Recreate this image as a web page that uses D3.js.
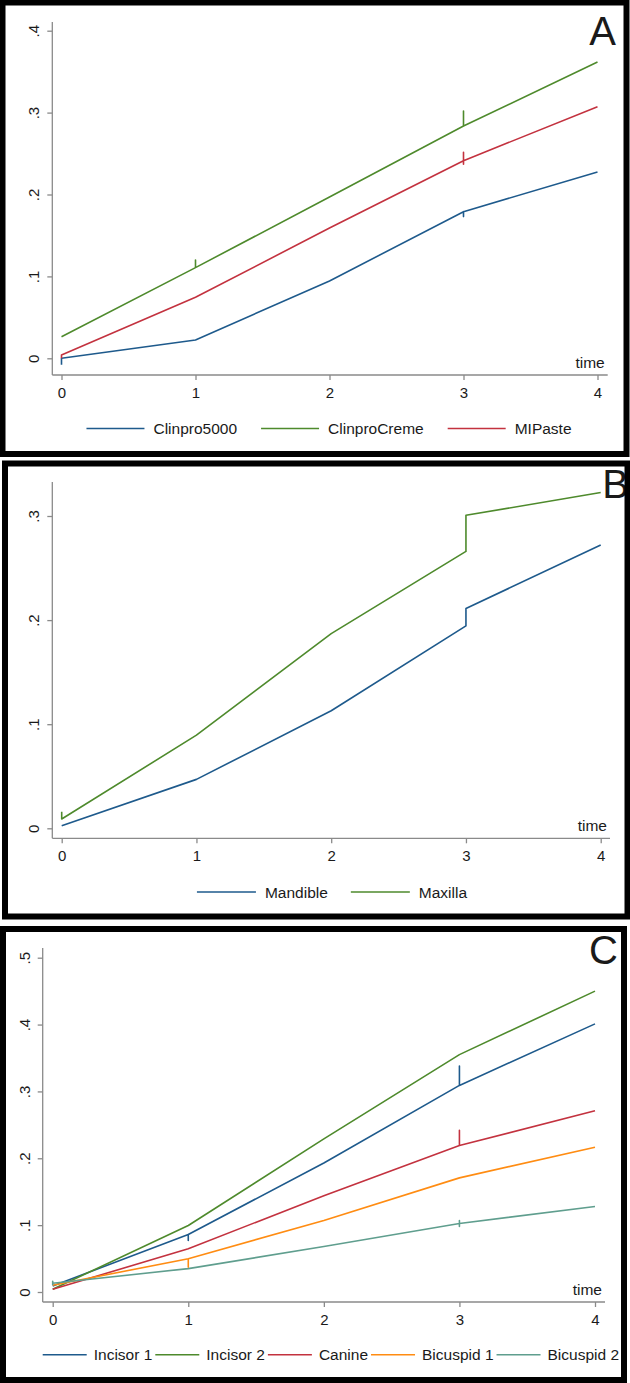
<!DOCTYPE html>
<html>
<head>
<meta charset="utf-8">
<script src="https://cdn.jsdelivr.net/npm/d3@7"></script>
<style>
  body { margin: 0; background: #fff; }
  svg text { font-family: Arial, "Liberation Sans", Helvetica, sans-serif; fill: #1a1a1a; }
</style>
</head>
<body>
<svg id="chart" width="630" height="1383"></svg>
<script>
// ---------------- DATA ----------------
const timeTicks = [0, 1, 2, 3, 4];
const timeTickLabels = ["0", "1", "2", "3", "4"];
const xAxisTitle = "time";

// Panel A
const yTicksA = [0, 0.1, 0.2, 0.3, 0.4];
const yTickLabelsA = ["0", ".1", ".2", ".3", ".4"];
const seriesNamesA = ["Clinpro5000", "ClinproCreme", "MIPaste"];
const clinpro5000 = [[0, -0.008], [0, 0], [1, 0.0224], [2, 0.0944], [3, 0.179], [3, 0.173], [3, 0.179], [4, 0.2275]];
const clinproCreme = [[0, 0.0264], [1, 0.1107], [1, 0.120], [1, 0.1107], [2, 0.197], [3, 0.2836], [3, 0.302], [3, 0.2836], [4, 0.3618]];
const miPaste = [[0, 0], [0, 0.004], [1, 0.0745], [2, 0.159], [3, 0.2413], [3, 0.2515], [3, 0.237], [3, 0.2413], [4, 0.3072]];

// Panel B
const yTicksB = [0, 0.1, 0.2, 0.3];
const yTickLabelsB = ["0", ".1", ".2", ".3"];
const seriesNamesB = ["Mandible", "Maxilla"];
const mandible = [[0, 0.0025], [1, 0.047], [2, 0.1129], [3, 0.1945], [3, 0.2111], [4, 0.2722]];
const maxilla = [[0, 0.016], [0, 0.0089], [1, 0.0895], [2, 0.187], [3, 0.266], [3, 0.3007], [4, 0.3225]];

// Panel C
const yTicksC = [0, 0.1, 0.2, 0.3, 0.4, 0.5];
const yTickLabelsC = ["0", ".1", ".2", ".3", ".4", ".5"];
const seriesNamesC = ["Incisor 1", "Incisor 2", "Canine", "Bicuspid 1", "Bicuspid 2"];
const incisor1 = [[0, 0.009], [1, 0.086], [1, 0.077], [1, 0.086], [2, 0.193], [3, 0.309], [3, 0.338], [3, 0.309], [4, 0.401]];
const incisor2 = [[0, 0.004], [1, 0.0995], [2, 0.229], [3, 0.355], [4, 0.450]];
const canine = [[0, 0.004], [1, 0.0647], [2, 0.144], [3, 0.219], [3, 0.242], [3, 0.219], [4, 0.271]];
const bicuspid1 = [[0, 0.010], [1, 0.0498], [1, 0.037], [1, 0.0498], [2, 0.107], [3, 0.1707], [4, 0.2166]];
const bicuspid2 = [[0, 0.010], [0, 0.016], [0, 0.013], [1, 0.035], [2, 0.068], [3, 0.1024], [3, 0.107], [3, 0.098], [3, 0.1024], [4, 0.128]];

// ---------------- STYLE / LAYOUT ----------------
const colorsA = ["#1e5a8c", "#4e8a2c", "#c3323f"];
const colorsB = ["#1e5a8c", "#4e8a2c"];
const colorsC = ["#1e5a8c", "#4e8a2c", "#c3323f", "#ff8c12", "#5f9e8e"];

const panels = [
  {
    letter: "A", series: [clinpro5000, clinproCreme, miPaste], names: seriesNamesA, colors: colorsA,
    yTicks: yTicksA, yLabels: yTickLabelsA, yMax: 0.4,
    xRange: [61.5, 597.5], yRange: [358.3, 30.7],
    axisX: 52.3, axisRight: 607.7, axisTop: 22, axisBottom: 375,
    legend: { y: 428.5, center: 329, key: 58, gap: 9, itemGap: 24 },
    letterPos: [616, 45],
    frame: [2.5, 2.5, 624, 451.5]
  },
  {
    letter: "B", series: [mandible, maxilla], names: seriesNamesB, colors: colorsB,
    yTicks: yTicksB, yLabels: yTickLabelsB, yMax: 0.3,
    xRange: [61.7, 600.7], yRange: [828.3, 516],
    axisX: 52.3, axisRight: 610, axisTop: 482, axisBottom: 838.3,
    legend: { y: 892, center: 332, key: 59, gap: 9, itemGap: 23 },
    letterPos: [629, 498],
    frame: [5, 463.5, 622.5, 453]
  },
  {
    letter: "C", series: [incisor1, incisor2, canine, bicuspid1, bicuspid2], names: seriesNamesC, colors: colorsC,
    yTicks: yTicksC, yLabels: yTickLabelsC, yMax: 0.5,
    xRange: [52.7, 595], yRange: [1292, 957.7],
    axisX: 42.7, axisRight: 605, axisTop: 948, axisBottom: 1302,
    legend: { y: 1354.7, start: 42.7, key: 44, gap: 7, itemGap: 3 },
    letterPos: [618, 964],
    frame: [3, 929, 621, 451]
  }
];

const svg = d3.select("#chart");
svg.append("rect").attr("width", 630).attr("height", 1383).attr("fill", "#fff");

const axisColor = "#8a8a8a";

panels.forEach(p => {
  const g = svg.append("g");
  const x = d3.scaleLinear().domain([0, 4]).range(p.xRange);
  const y = d3.scaleLinear().domain([0, p.yMax]).range([p.yRange[0], p.yRange[1]]);

  // axis lines
  g.append("line").attr("x1", p.axisX).attr("x2", p.axisX).attr("y1", p.axisTop).attr("y2", p.axisBottom)
    .attr("stroke", axisColor).attr("stroke-width", 1.3);
  g.append("line").attr("x1", p.axisX).attr("x2", p.axisRight).attr("y1", p.axisBottom).attr("y2", p.axisBottom)
    .attr("stroke", axisColor).attr("stroke-width", 1.3);

  // x axis
  const xa = g.append("g").attr("transform", `translate(0,${p.axisBottom})`)
    .call(d3.axisBottom(x).tickValues(timeTicks).tickSize(5).tickPadding(7)
      .tickFormat((d, i) => timeTickLabels[i]));
  xa.select(".domain").remove();
  xa.selectAll("line").attr("stroke", axisColor).attr("stroke-width", 1.3);
  xa.selectAll("text").attr("font-size", 15).attr("fill", "#1a1a1a")
    .attr("font-family", "Arial, 'Liberation Sans', sans-serif");

  // y axis
  const ya = g.append("g").attr("transform", `translate(${p.axisX},0)`)
    .call(d3.axisLeft(y).tickValues(p.yTicks).tickSize(5)
      .tickFormat((d, i) => p.yLabels[i]));
  ya.select(".domain").remove();
  ya.selectAll("line").attr("stroke", axisColor).attr("stroke-width", 1.3);
  ya.selectAll("text")
    .attr("transform", "rotate(-90)")
    .attr("x", 0).attr("y", -13).attr("dy", 0)
    .attr("text-anchor", "middle")
    .attr("font-size", 15).attr("fill", "#1a1a1a")
    .attr("font-family", "Arial, 'Liberation Sans', sans-serif");

  // x title
  g.append("text").attr("x", p.axisRight - 3).attr("y", p.axisBottom - 7)
    .attr("text-anchor", "end").attr("font-size", 15.5).text(xAxisTitle);

  // lines
  const line = d3.line().x(d => x(d[0])).y(d => y(d[1]));
  g.selectAll("path.series").data(p.series).enter().append("path")
    .attr("class", "series")
    .attr("d", line)
    .attr("fill", "none")
    .attr("stroke", (d, i) => p.colors[i])
    .attr("stroke-width", 1.6)
    .attr("stroke-linejoin", "round");

  // legend
  const L = p.legend;
  const lg = g.append("g");
  const items = p.names.map((name, i) => {
    const it = lg.append("g");
    it.append("line").attr("x1", 0).attr("x2", L.key).attr("y1", 0).attr("y2", 0)
      .attr("stroke", p.colors[i]).attr("stroke-width", 1.6);
    const t = it.append("text").attr("x", L.key + L.gap).attr("y", 5.5)
      .attr("font-size", 15.5).text(name);
    const w = L.key + L.gap + t.node().getComputedTextLength();
    return { it, w };
  });
  const total = d3.sum(items, d => d.w) + L.itemGap * (items.length - 1);
  let cx = (L.start !== undefined) ? L.start : L.center - total / 2;
  items.forEach(d => {
    d.it.attr("transform", `translate(${cx},${L.y})`);
    cx += d.w + L.itemGap;
  });

  // panel letter
  g.append("text").attr("x", p.letterPos[0]).attr("y", p.letterPos[1])
    .attr("text-anchor", "end").attr("font-size", 40).attr("fill", "#000").text(p.letter);

  // frame
  svg.append("rect").attr("x", p.frame[0]).attr("y", p.frame[1])
    .attr("width", p.frame[2]).attr("height", p.frame[3])
    .attr("fill", "none").attr("stroke", "#000").attr("stroke-width", 6);
});
</script>
</body>
</html>
